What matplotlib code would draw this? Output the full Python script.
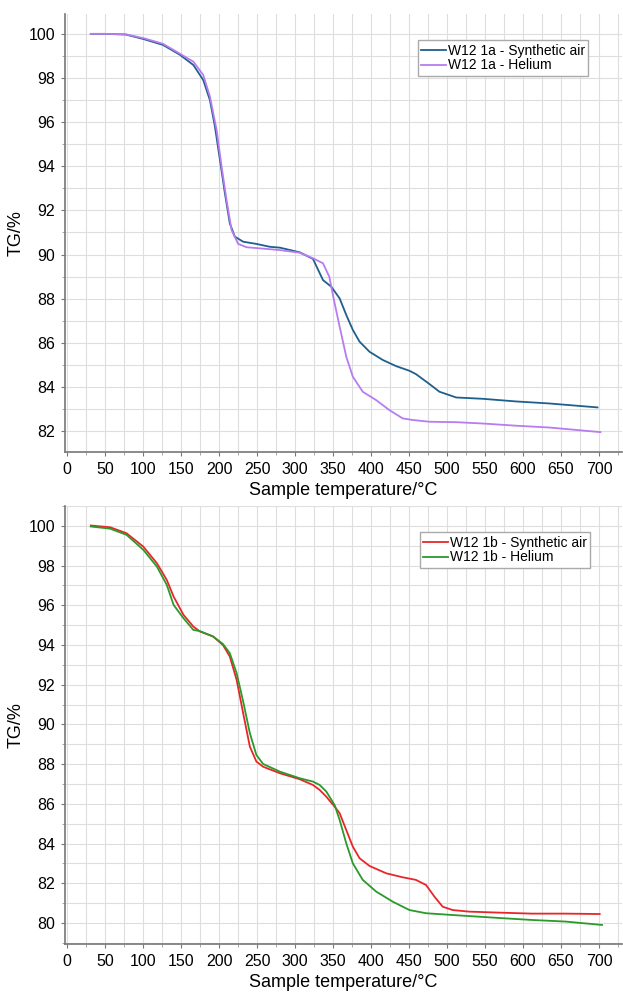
import matplotlib
matplotlib.use("Agg")
import matplotlib.pyplot as plt
from matplotlib.ticker import MultipleLocator

plt.rcParams['font.family'] = ['Liberation Sans', 'DejaVu Sans']

# ---- Panel 1a ----
t_air_a = [31, 50, 77, 101, 126, 148.4, 166, 179, 187.8, 194.4, 201, 207.5, 214, 220.6, 231.6,
           249, 266.6, 280, 306, 323.5, 336.7, 347.6, 358.6, 367.3, 376, 384.8, 398, 415.4, 433, 450.5,
           459, 476.8, 490, 512, 547, 591, 634, 698]
tg_air_a = [100.0, 100.0, 99.97, 99.76, 99.5, 99.05, 98.59, 97.91, 97.0, 95.8, 94.29, 92.78, 91.41, 90.81, 90.58,
            90.48, 90.35, 90.31, 90.1, 89.8, 88.84, 88.54, 88.01, 87.26, 86.58, 86.05, 85.59, 85.22, 84.94, 84.73,
            84.58, 84.13, 83.78, 83.52, 83.46, 83.34, 83.25, 83.07]
t_he_a = [31, 50, 77, 101, 126, 148.4, 166, 179, 187.8, 196.6, 203.2, 209.7, 216.3, 225, 236,
          266.6, 280, 306, 323.5, 336.7, 345, 352, 358.6, 367.3, 376, 389, 406.7, 424, 441.7, 454.8,
          476.8, 512, 547, 591, 634, 702]
tg_he_a = [100.0, 100.0, 99.98, 99.8, 99.55, 99.1, 98.74, 98.14, 97.16, 95.65, 93.98, 92.47, 91.11, 90.48, 90.33,
           90.24, 90.2, 90.08, 89.83, 89.6, 88.99, 87.79, 86.73, 85.37, 84.46, 83.78, 83.4, 82.95, 82.57, 82.5,
           82.42, 82.4, 82.34, 82.24, 82.16, 81.95]

# ---- Panel 1b ----
t_air_b = [31, 56.5, 78, 100, 118, 131, 140, 153, 166, 174.7, 192, 205, 214, 223, 231.6,
           240.4, 249, 257.8, 280, 306, 323.5, 332.3, 341, 352, 358.6, 367.3, 376, 384.8, 398, 420,
           441.7, 459, 472.4, 483.3, 494.2, 507.4, 529.3, 569, 612, 656, 701]
tg_air_b = [100.02, 99.93, 99.63, 98.96, 98.12, 97.28, 96.44, 95.52, 94.93, 94.68, 94.43, 94.0, 93.42, 92.24, 90.56,
            88.88, 88.13, 87.87, 87.54, 87.24, 86.95, 86.7, 86.36, 85.86, 85.53, 84.68, 83.84, 83.26, 82.87, 82.5,
            82.3, 82.17, 81.91, 81.33, 80.82, 80.65, 80.57, 80.52, 80.47, 80.47, 80.45]
t_he_b = [31, 56.5, 78, 100, 118, 131, 140, 153, 166, 174.7, 192, 205, 214, 223, 231.6,
          240.4, 249, 257.8, 280, 306, 323.5, 332.3, 341, 352, 358.6, 367.3, 376, 389, 406.7, 428.6,
          450.5, 472.4, 507.4, 569, 612, 656, 704]
tg_he_b = [99.97, 99.86, 99.55, 98.8, 97.95, 97.03, 96.02, 95.35, 94.76, 94.7, 94.43, 94.05, 93.59, 92.58, 91.15,
           89.56, 88.46, 88.01, 87.62, 87.29, 87.12, 86.95, 86.62, 85.94, 85.19, 84.01, 83.0, 82.17, 81.58, 81.07,
           80.65, 80.49, 80.4, 80.25, 80.15, 80.07, 79.9]

x_ticks = list(range(0, 701, 50))
xlabel = "Sample temperature/°C"
ylabel = "TG/%"

fig = plt.figure(figsize=(6.23, 9.94), dpi=100)
ax1 = fig.add_axes([0.1043, 0.5453, 0.8937, 0.4406])
ax2 = fig.add_axes([0.1043, 0.0503, 0.8937, 0.4406])

def style(ax, ylim, yticks):
    ax.set_xlim(-3, 730)
    ax.set_ylim(*ylim)
    ax.set_xticks(x_ticks)
    ax.set_yticks(yticks)
    ax.xaxis.set_minor_locator(MultipleLocator(25))
    ax.yaxis.set_minor_locator(MultipleLocator(1))
    ax.grid(True, which='both', color='#dedede', linewidth=0.8)
    ax.set_axisbelow(True)
    for s in ['top', 'right']:
        ax.spines[s].set_visible(False)
    for s in ['left', 'bottom']:
        ax.spines[s].set_color('#777777')
        ax.spines[s].set_linewidth(1.2)
    ax.tick_params(which='major', direction='out', length=3, color='#777777', labelsize=11.5, pad=4)
    ax.tick_params(which='minor', direction='out', length=2, color='#999999')
    ax.set_xlabel(xlabel, fontsize=13, labelpad=4)
    ax.set_ylabel(ylabel, fontsize=13, labelpad=3)

def add_legend(ax, x0):
    ax.legend(loc='upper left', bbox_to_anchor=(x0, 0.94), fontsize=10, frameon=True, fancybox=False,
              edgecolor='#aaaaaa', framealpha=1, borderaxespad=0, handlelength=1.8, handletextpad=0.1,
              labelspacing=0.05, borderpad=0.25)

ax1.plot(t_air_a, tg_air_a, color='#1f5f8e', lw=1.3, label='W12 1a - Synthetic air')
ax1.plot(t_he_a, tg_he_a, color='#b77cf0', lw=1.3, label='W12 1a - Helium')
style(ax1, (81.05, 100.9), list(range(82, 101, 2)))
add_legend(ax1, 0.634)

ax2.plot(t_air_b, tg_air_b, color='#e8262a', lw=1.3, label='W12 1b - Synthetic air')
ax2.plot(t_he_b, tg_he_b, color='#2a9a2a', lw=1.3, label='W12 1b - Helium')
style(ax2, (78.94, 101.0), list(range(80, 101, 2)))
add_legend(ax2, 0.637)

fig.savefig('out.png', dpi=100)
